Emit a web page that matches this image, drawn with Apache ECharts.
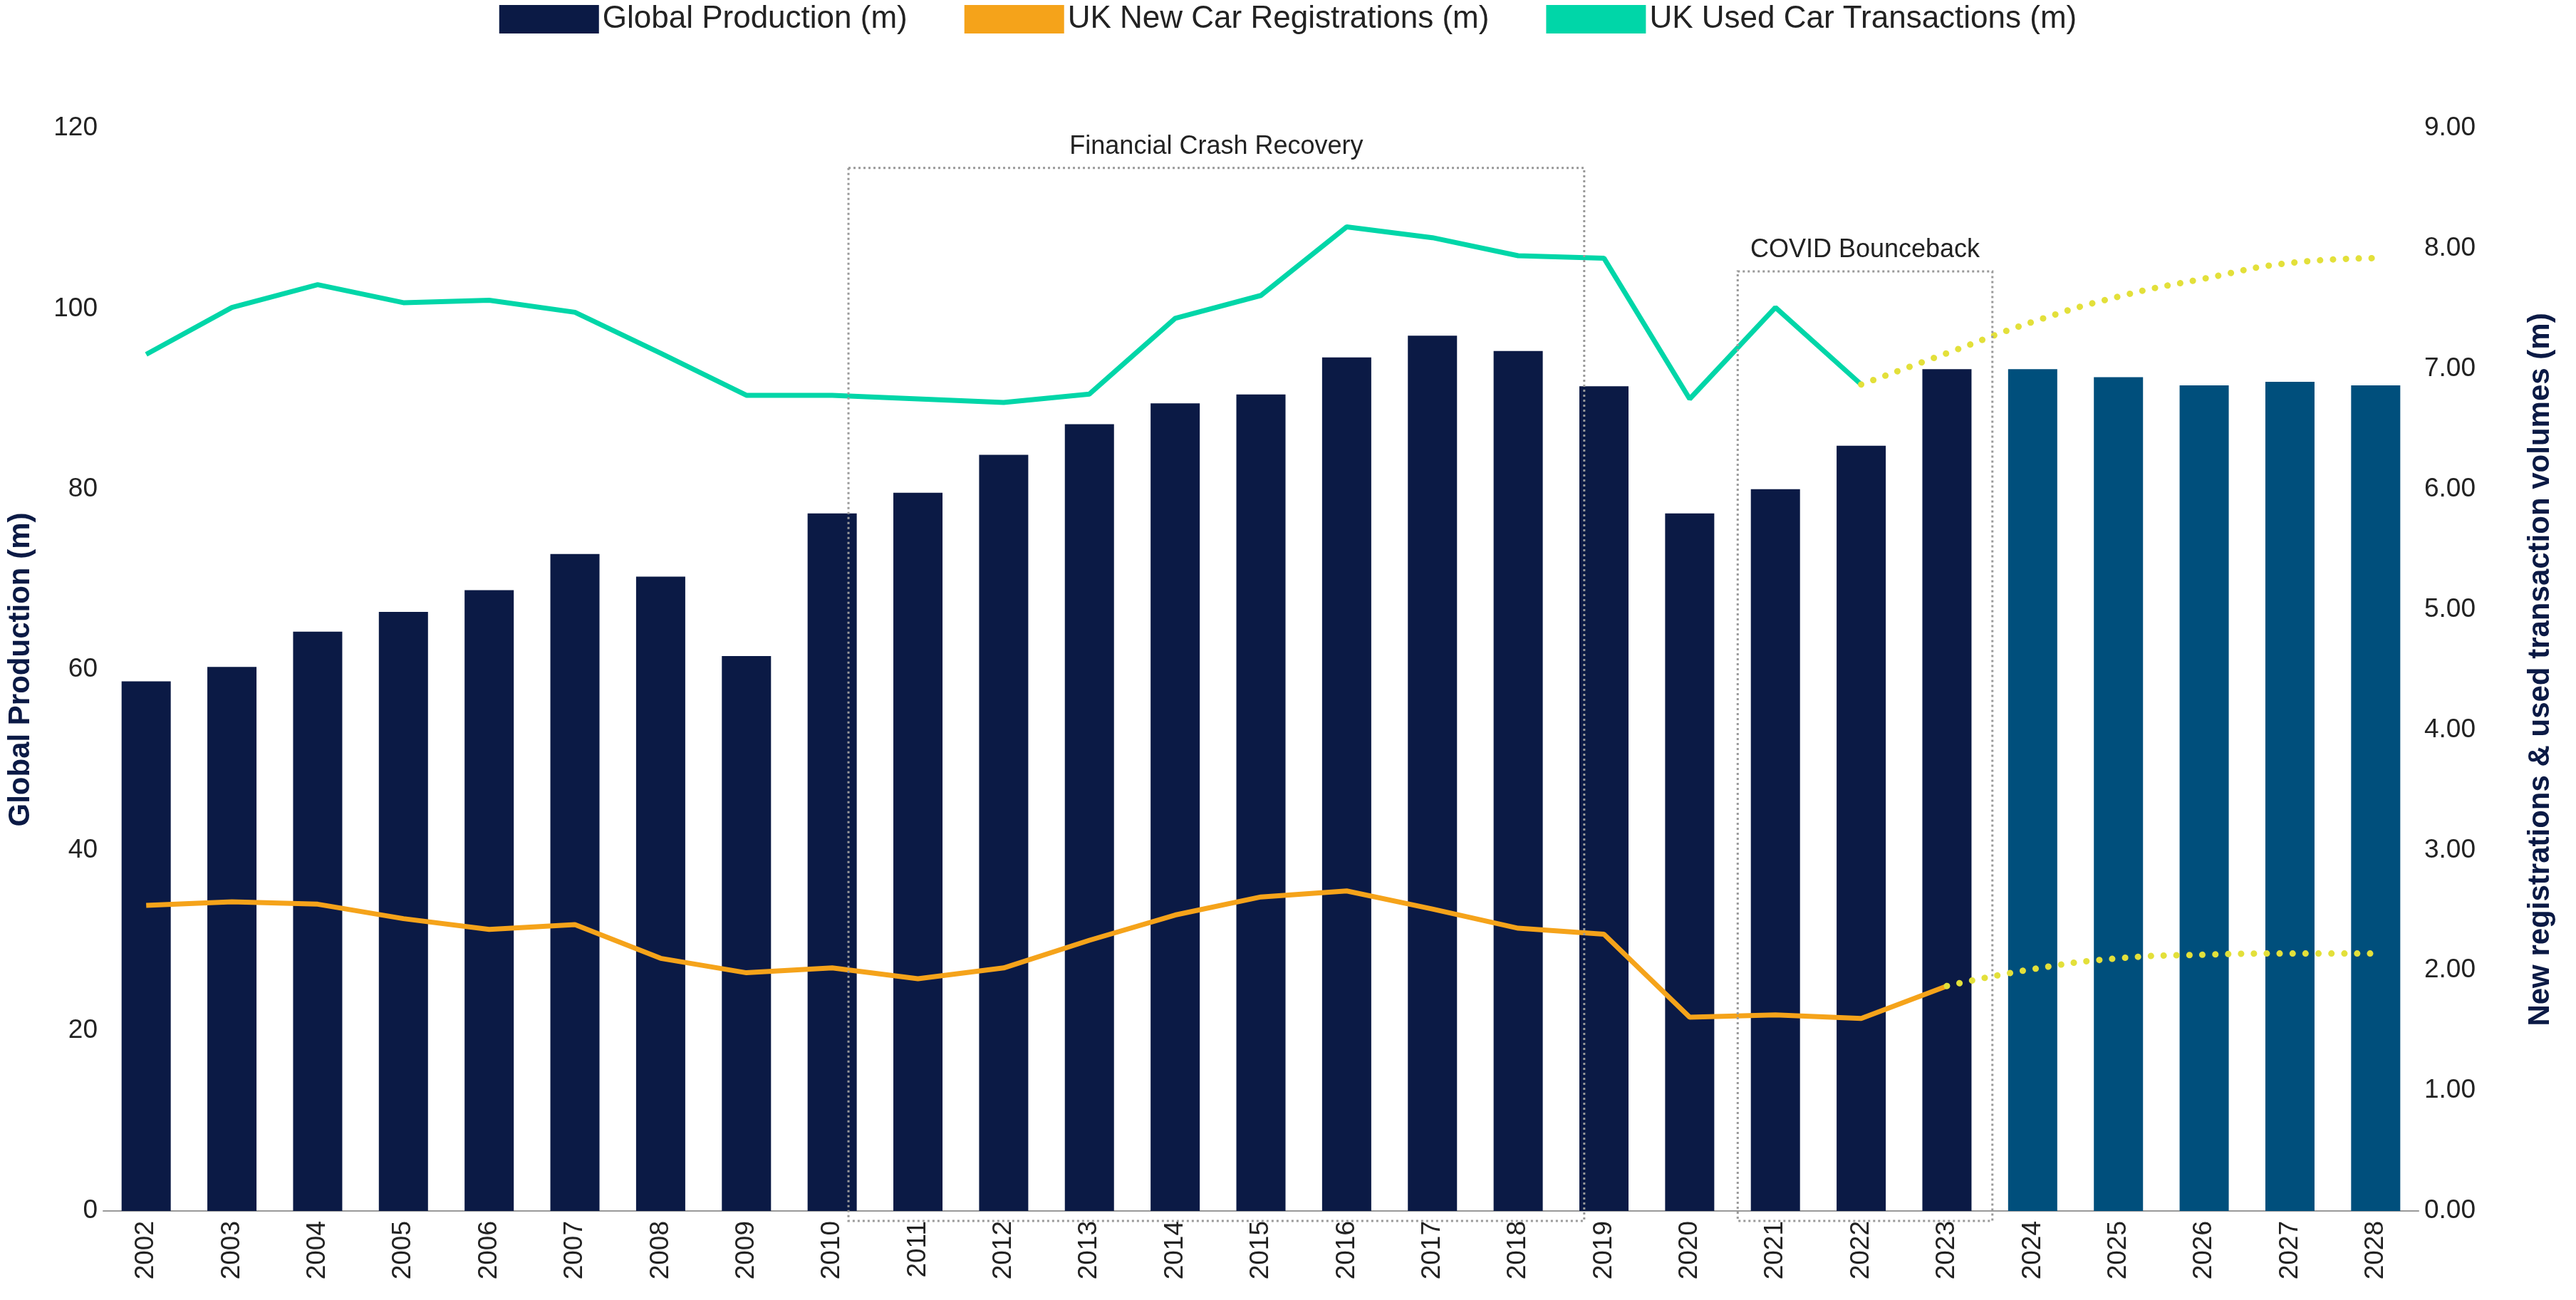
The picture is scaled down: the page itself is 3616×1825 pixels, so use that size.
<!DOCTYPE html>
<html><head><meta charset="utf-8">
<script src="https://cdn.jsdelivr.net/npm/echarts@6/dist/echarts.min.js"></script>
<style>html,body{margin:0;background:#fff}#c{width:3616px;height:1825px}</style>
</head><body><div id="c"></div>
<script>
const years = ['2002','2003','2004','2005','2006','2007','2008','2009','2010','2011','2012','2013','2014','2015','2016','2017','2018','2019','2020','2021','2022','2023','2024','2025','2026','2027','2028'];
const production = [58.7,60.3,64.2,66.4,68.8,72.8,70.3,61.5,77.3,79.6,83.8,87.2,89.5,90.5,94.6,97.0,95.3,91.4,77.3,80.0,84.8,93.3,93.3,92.4,91.5,91.9,91.5];
const forecastStart = 22; // index of first forecast bar (2024)
const usedCars = [7.12,7.51,7.70,7.55,7.57,7.47,7.13,6.78,6.78,6.75,6.72,6.79,7.42,7.61,8.18,8.09,7.94,7.92,6.75,7.51,6.87,null,null,null,null,null,null];
const usedForecast = [null,null,null,null,null,null,null,null,null,null,null,null,null,null,null,null,null,null,null,null,6.87,7.13,7.39,7.60,7.75,7.88,7.92];
const newCars = [2.54,2.57,2.55,2.43,2.34,2.38,2.10,1.98,2.02,1.93,2.02,2.25,2.46,2.61,2.66,2.51,2.35,2.30,1.61,1.63,1.60,1.87,null,null,null,null,null];
const newForecast = [null,null,null,null,null,null,null,null,null,null,null,null,null,null,null,null,null,null,null,null,null,1.87,2.01,2.10,2.13,2.14,2.14];

const F = '"Liberation Sans", Arial, sans-serif';
const chart = echarts.init(document.getElementById('c'));
const dotted = c => ({color:c,width:9,type:[0.1,18],cap:'round'});
chart.setOption({
  animation:false,
  textStyle:{fontFamily:F},
  legend:{top:0,left:'center',itemWidth:140,itemHeight:40,itemGap:80,
    textStyle:{fontSize:44,color:'#222',fontFamily:F},
    data:[{name:'Global Production (m)',icon:'rect'},{name:'UK New Car Registrations (m)',icon:'rect',itemStyle:{color:'#f5a31a'}},{name:'UK Used Car Transactions (m)',icon:'rect',itemStyle:{color:'#00d6a8'}}]},
  grid:{left:138,right:221,top:180,bottom:125},
  xAxis:{type:'category',data:years,axisTick:{show:false},
    axisLine:{lineStyle:{color:'#999',width:2}},
    axisLabel:{rotate:90,fontSize:37,color:'#222',margin:14}},
  yAxis:[
    {type:'value',min:0,max:120,interval:20,name:'Global Production (m)',nameLocation:'middle',nameGap:95,
     nameTextStyle:{fontSize:42,fontWeight:'bold',color:'#0b1a45'},splitLine:{show:false},
     axisLabel:{fontSize:37,color:'#222'}},
    {type:'value',min:0,max:9,interval:1,name:'New registrations & used transaction volumes (m)',nameLocation:'middle',nameGap:150,
     nameTextStyle:{fontSize:42,fontWeight:'bold',color:'#0b1a45'},splitLine:{show:false},
     axisLabel:{fontSize:37,color:'#222',formatter:v=>v.toFixed(2)}}
  ],
  series:[
    {name:'Global Production (m)',type:'bar',barWidth:69,itemStyle:{color:'#0b1a45'},
     data:production.map((v,i)=>i>=forecastStart?{value:v,itemStyle:{color:'#004f7c'}}:v)},
    {name:'UK New Car Registrations (m)',type:'line',yAxisIndex:1,data:newCars,symbol:'none',
     lineStyle:{color:'#f5a31a',width:7},itemStyle:{color:'#f5a31a'}},
    {name:'UK Used Car Transactions (m)',type:'line',yAxisIndex:1,data:usedCars,symbol:'none',
     lineStyle:{color:'#00d6a8',width:7},itemStyle:{color:'#00d6a8'}},
    {name:'newF',type:'line',yAxisIndex:1,data:newForecast,symbol:'none',smooth:true,lineStyle:dotted('#e3e03a')},
    {name:'usedF',type:'line',yAxisIndex:1,data:usedForecast,symbol:'none',smooth:true,lineStyle:dotted('#e3e03a')}
  ]
});
function box(fromIdx, fromOff, toIdx, toOff, topVal, label){
  const bw = chart.convertToPixel({xAxisIndex:0},years[1]) - chart.convertToPixel({xAxisIndex:0},years[0]);
  const x1 = chart.convertToPixel({xAxisIndex:0},years[fromIdx]) + fromOff*bw;
  const x2 = chart.convertToPixel({xAxisIndex:0},years[toIdx]) + toOff*bw;
  const y1 = chart.convertToPixel({yAxisIndex:1},topVal);
  const y2 = chart.convertToPixel({yAxisIndex:1},0) + 14;
  return [
    {type:'rect',shape:{x:x1,y:y1,width:x2-x1,height:y2-y1},z:100,
     style:{fill:'none',stroke:'#999',lineWidth:3,lineDash:[3,4]}},
    {type:'text',x:(x1+x2)/2,y:y1-30,z:100,style:{text:label,fill:'#222',font:'36px '+F,align:'center',verticalAlign:'middle'}}
  ];
}
chart.setOption({graphic:[...box(8,0.19,17,-0.23,8.67,'Financial Crash Recovery'),...box(19,-0.44,21,0.53,7.81,'COVID Bounceback')]});
</script></body></html>
